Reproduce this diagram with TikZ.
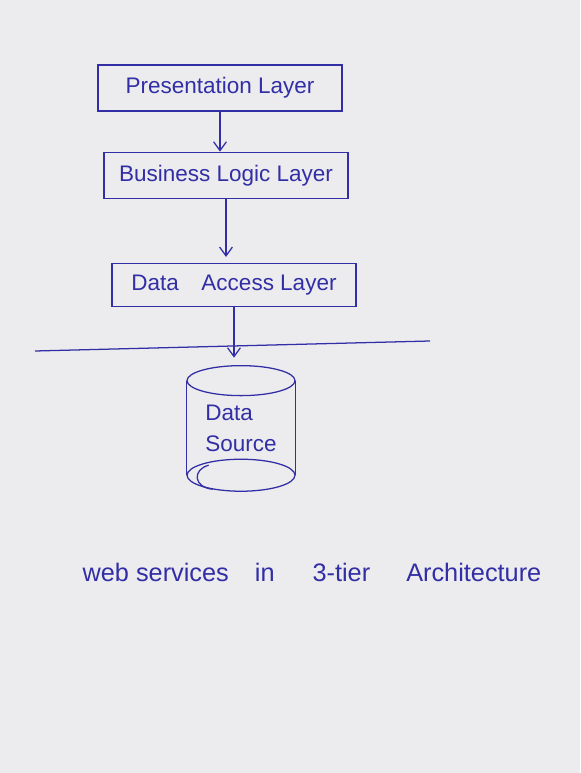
\documentclass[tikz,border=0pt]{standalone}
\usepackage{fontspec}
\setmainfont{Liberation Sans}
\usetikzlibrary{arrows.meta,positioning,calc}
\definecolor{pen}{RGB}{50,46,165}
\definecolor{paper}{RGB}{236,236,238}
\begin{document}
\begin{tikzpicture}[
  x=0.025cm,y=-0.025cm,
  layer/.style={draw=pen,line width=0.9pt,minimum width=6.1cm,minimum height=1.15cm,text=pen,font=\fontsize{16}{19}\selectfont},
  arr/.style={-{Straight Barb[length=2.2mm,width=3.2mm]},draw=pen,line width=0.9pt},
  ink/.style={draw=pen,line width=0.9pt},
  node distance=1cm
]
\fill[paper] (0,0) rectangle (580,773);
\useasboundingbox (0,0) rectangle (580,773);
\node[layer] (pres) at (220,88) {Presentation Layer};
\node[layer,below=1cm of pres,xshift=0.15cm] (biz) {Business Logic Layer};
\node[layer,below=1.6cm of biz,xshift=0.2cm,minimum height=1.075cm] (dal) {Data\quad Access Layer};
\node[minimum width=2.7cm,minimum height=3.125cm,text=pen,align=left,font=\fontsize{16}{22}\selectfont,below=1.46cm of dal,xshift=0.175cm] (src) {Data\\Source};
% cylinder outline round the data source
\draw[ink] ($(src.north)+(0,15)$) ellipse[x radius=54,y radius=15];
\draw[ink] ($(src.north west)+(0,15)$) -- ($(src.south west)+(0,-16)$);
\draw[ink] ($(src.north east)+(0,15)$) -- ($(src.south east)+(0,-16)$);
\draw[ink] ($(src.south)+(0,-16)$) ellipse[x radius=54,y radius=16];
\draw[ink] ($(src.south west)+(22,-26)$) .. controls ($(src.south west)+(6,-22)$) and ($(src.south west)+(6,-4)$) .. ($(src.south west)+(26,-2)$);
% divider line
\coordinate (rule-l) at (35,351);
\coordinate (rule-r) at (430,341);
\draw[ink] (rule-l) -- (rule-r);
\draw[arr] (pres.south) -- (pres.south |- biz.north);
\draw[arr,shorten >=0.15cm] (biz.south) -- (biz.south |- dal.north);
\draw[arr,shorten >=0.2cm] (dal.south) -- (dal.south |- src.north);
\node[text=pen,font=\fontsize{18}{21}\selectfont] (cap) at (312,572) {web services\hspace{0.65cm}in\hspace{0.95cm}3-tier\hspace{0.9cm}Architecture};
\end{tikzpicture}
\end{document}
